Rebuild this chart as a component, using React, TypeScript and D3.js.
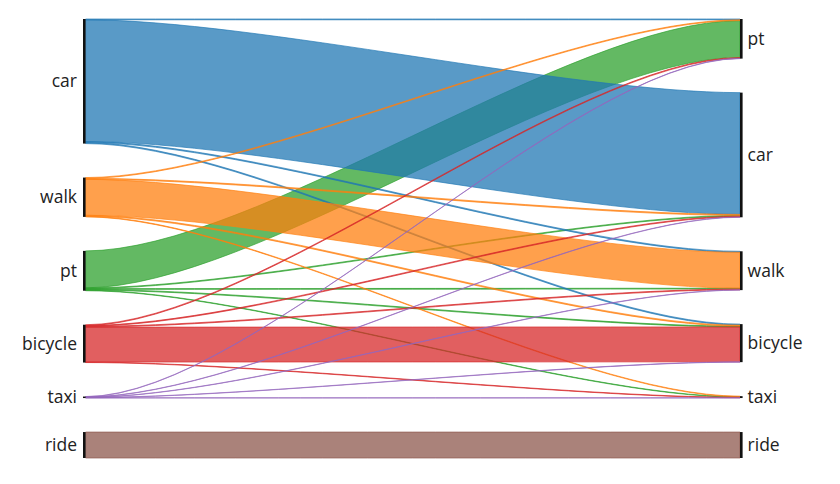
import React from "react";
import * as d3 from "d3";

// Nodes (same set on both sides)
const modes = ["car", "walk", "pt", "bicycle", "taxi", "ride"];
const modeColors = ["#1f77b4", "#ff7f0e", "#2ca02c", "#d62728", "#9467bd", "#8c564b"];
// Vertical order of nodes in each column
const leftOrder = ["car", "walk", "pt", "bicycle", "taxi", "ride"];
const rightOrder = ["pt", "car", "walk", "bicycle", "taxi", "ride"];

// Links (drawn in this order)
const linkSources = [
  "pt", "pt", "pt", "pt", "pt",
  "car", "car", "car", "car",
  "walk", "walk", "walk", "walk", "walk",
  "bicycle", "bicycle", "bicycle", "bicycle", "bicycle",
  "taxi", "taxi", "taxi", "taxi", "taxi",
  "ride",
];
const linkTargets = [
  "pt", "car", "walk", "bicycle", "taxi",
  "pt", "car", "walk", "bicycle",
  "pt", "car", "walk", "bicycle", "taxi",
  "pt", "car", "walk", "bicycle", "taxi",
  "pt", "car", "walk", "bicycle", "taxi",
  "ride",
];
const linkValues = [
  37, 0.8, 0.8, 0.8, 0.5,
  0.8, 122, 1, 1,
  0.8, 1, 36, 1, 0.6,
  0.8, 0.8, 0.8, 35, 0.5,
  0.3, 0.3, 0.3, 0.3, 0.3,
  26,
];

const W = 840;
const H = 484;
const TOP = 19;
const BOTTOM = 458;
const X_LEFT = 83;
const X_RIGHT = 740;
const NODE_W = 2.6;
const PAD = 34;
const LINK_ALPHA = 0.74;
const CURVATURE = 0.26;

type NodePos = { name: string; y0: number; y1: number; x0: number; x1: number };

export default function App() {
  const colorOf = d3.scaleOrdinal<string, string>().domain(modes).range(modeColors);
  const links = linkValues.map((v, i) => ({ s: linkSources[i], t: linkTargets[i], v, i }));

  const sumOut = (n: string) => d3.sum(links.filter((l) => l.s === n), (l) => l.v);
  const sumIn = (n: string) => d3.sum(links.filter((l) => l.t === n), (l) => l.v);
  const leftTotal = d3.sum(leftOrder, sumOut);
  const rightTotal = d3.sum(rightOrder, sumIn);
  const avail = BOTTOM - TOP - PAD * (modes.length - 1);
  const ky = d3.scaleLinear().domain([0, Math.max(leftTotal, rightTotal)]).range([0, avail]);

  const left: Record<string, NodePos> = {};
  let y = TOP;
  leftOrder.forEach((n) => {
    const h = ky(sumOut(n));
    left[n] = { name: n, y0: y, y1: y + h, x0: X_LEFT, x1: X_LEFT + NODE_W };
    y += h + PAD;
  });
  const right: Record<string, NodePos> = {};
  y = TOP;
  rightOrder.forEach((n) => {
    const h = ky(sumIn(n));
    right[n] = { name: n, y0: y, y1: y + h, x0: X_RIGHT, x1: X_RIGHT + NODE_W };
    y += h + PAD;
  });

  // Link offsets
  const srcY: Record<number, number> = {};
  leftOrder.forEach((n) => {
    let off = left[n].y0;
    links
      .filter((l) => l.s === n)
      .sort((a, b) => right[a.t].y0 - right[b.t].y0)
      .forEach((l) => {
        srcY[l.i] = off;
        off += ky(l.v);
      });
  });
  const tgtY: Record<number, number> = {};
  rightOrder.forEach((n) => {
    let off = right[n].y0;
    links
      .filter((l) => l.t === n)
      .sort((a, b) => left[a.s].y0 - left[b.s].y0)
      .forEach((l) => {
        tgtY[l.i] = off;
        off += ky(l.v);
      });
  });

  const ribbon = (l: { s: string; t: string; v: number; i: number }) => {
    const x0 = X_LEFT + NODE_W;
    const x1 = X_RIGHT;
    const xi = d3.interpolateNumber(x0, x1);
    const xa = xi(CURVATURE);
    const xb = xi(1 - CURVATURE);
    const w = ky(l.v);
    const a0 = srcY[l.i];
    const b0 = tgtY[l.i];
    const p = d3.path();
    p.moveTo(x0, a0);
    p.bezierCurveTo(xa, a0, xb, b0, x1, b0);
    p.lineTo(x1, b0 + w);
    p.bezierCurveTo(xb, b0 + w, xa, a0 + w, x0, a0 + w);
    p.closePath();
    return p.toString();
  };

  const font = "'Open Sans', 'Noto Sans', sans-serif";

  return (
    <svg
      width={W}
      height={H}
      style={{ position: "absolute", left: 0, top: 0, background: "#fff" }}
    >
      <g>
        {links.map((l) => (
          <path
            key={l.i}
            d={ribbon(l)}
            fill={colorOf(l.s)}
            fillOpacity={LINK_ALPHA}
            stroke={colorOf(l.s)}
            strokeOpacity={LINK_ALPHA}
            strokeWidth={0.9}
          />
        ))}
      </g>
      <g>
        {leftOrder.map((n) => {
          const nd = left[n];
          return (
            <g key={"l" + n}>
              <rect x={nd.x0} y={nd.y0} width={NODE_W} height={Math.max(nd.y1 - nd.y0, 0.8)} fill="#111" />
              <text
                x={nd.x0 - 6}
                y={(nd.y0 + nd.y1) / 2}
                dy="0.35em"
                textAnchor="end"
                fontFamily={font}
                fontSize={17.5}
                fill="#222"
              >
                {n}
              </text>
            </g>
          );
        })}
        {rightOrder.map((n) => {
          const nd = right[n];
          return (
            <g key={"r" + n}>
              <rect x={nd.x0} y={nd.y0} width={NODE_W} height={Math.max(nd.y1 - nd.y0, 0.8)} fill="#111" />
              <text
                x={nd.x1 + 5}
                y={(nd.y0 + nd.y1) / 2}
                dy="0.35em"
                textAnchor="start"
                fontFamily={font}
                fontSize={17.5}
                fill="#222"
              >
                {n}
              </text>
            </g>
          );
        })}
      </g>
    </svg>
  );
}
